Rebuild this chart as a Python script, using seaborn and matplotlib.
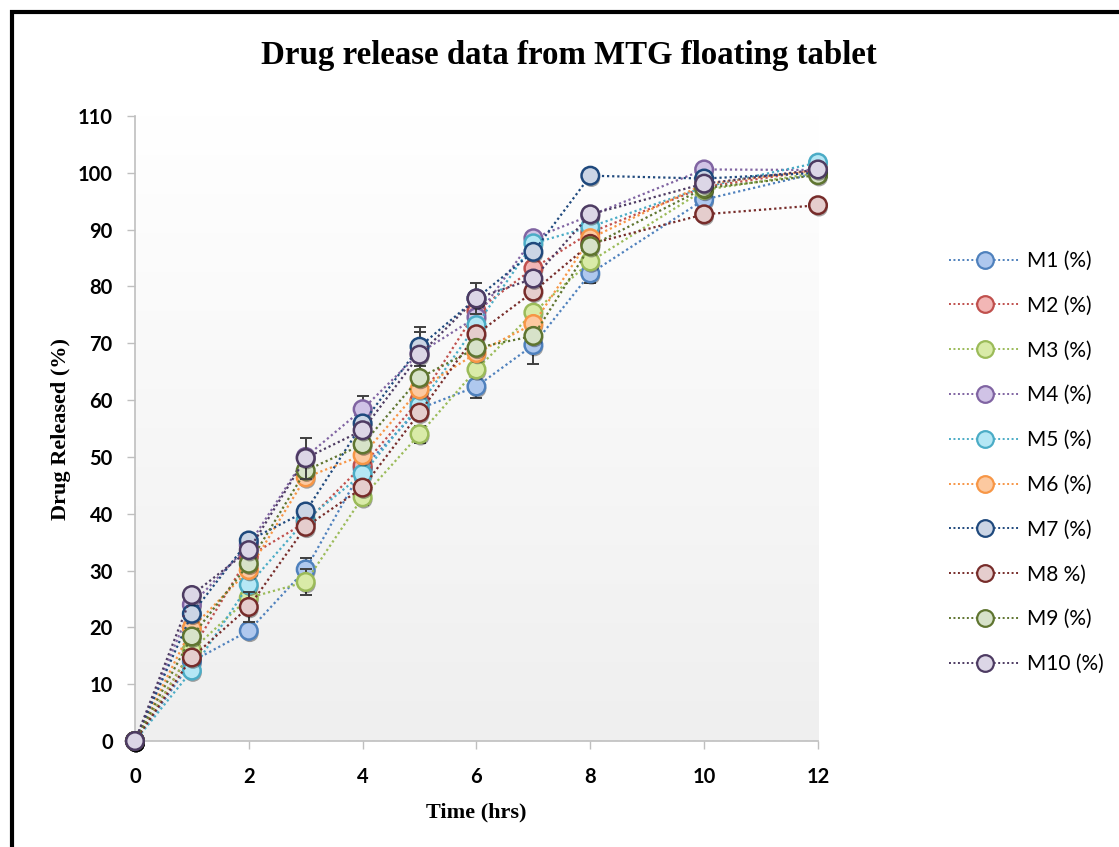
import numpy as np
import pandas as pd
import seaborn as sns
import matplotlib.pyplot as plt
import matplotlib.patheffects as pe
from matplotlib.lines import Line2D
from matplotlib.patches import Rectangle

# Sampling times (hrs)
time_hrs = [0, 1, 2, 3, 4, 5, 6, 7, 8, 10, 12]

# Cumulative drug released (%) per formulation
m1 = [0, 14.0, 19.4, 30.2, 48.0, 58.5, 62.4, 69.7, 82.3, 95.3, 100.0]
m2 = [0, 16.0, 32.5, 38.5, 48.5, 60.0, 75.7, 83.2, 89.5, 97.5, 100.5]
m3 = [0, 16.0, 25.2, 28.0, 42.9, 54.0, 65.4, 75.4, 84.4, 97.0, 100.0]
m4 = [0, 24.0, 34.5, 50.0, 58.4, 68.3, 74.6, 88.5, 92.5, 100.6, 100.5]
m5 = [0, 12.4, 27.5, 38.9, 47.0, 59.1, 73.2, 87.6, 90.5, 97.5, 101.8]
m6 = [0, 19.9, 30.1, 46.4, 50.3, 61.9, 68.3, 73.4, 88.5, 98.0, 100.5]
m7 = [0, 22.4, 35.3, 40.4, 55.9, 69.4, 77.9, 86.1, 99.5, 99.0, 100.0]
m8 = [0, 14.7, 23.6, 37.7, 44.6, 57.8, 71.6, 79.1, 87.5, 92.7, 94.3]
m9 = [0, 18.4, 31.2, 47.6, 52.2, 63.9, 69.2, 71.3, 87.1, 97.3, 99.6]
m10 = [0, 25.7, 33.6, 49.8, 54.7, 68.0, 77.9, 81.4, 92.7, 98.1, 100.6]

# Standard deviations (0 = no error bar shown)
m1_err = [0, 0, 0, 2.0, 0, 0, 2.1, 3.3, 1.6, 0, 0]
m3_err = [0, 0, 0, 2.3, 1.4, 1.5, 0, 0, 0, 0, 0]
m4_err = [0, 0, 0, 0, 2.4, 3.7, 0, 0, 0, 0, 0]
m7_err = [0, 0, 1.2, 0, 0, 3.4, 0, 0, 0, 0, 0]
m8_err = [0, 0, 2.6, 0, 0, 0, 0, 0, 0, 0, 0]
m10_err = [0, 1.3, 0, 3.6, 0, 0, 2.8, 0, 0, 0, 0]
zero_err = [0] * len(time_hrs)

series_labels = ["M1 (%)", "M2 (%)", "M3 (%)", "M4 (%)", "M5 (%)",
                 "M6 (%)", "M7 (%)", "M8 %)", "M9 (%)", "M10 (%)"]
series_values = [m1, m2, m3, m4, m5, m6, m7, m8, m9, m10]
series_errors = [m1_err, zero_err, m3_err, m4_err, zero_err,
                 zero_err, m7_err, m8_err, zero_err, m10_err]

line_colors = ["#4F81BD", "#C0504D", "#9BBB59", "#8064A2", "#4BACC6",
               "#F79646", "#1F497D", "#772C2A", "#5F7530", "#4D3B62"]
fill_colors = ["#AFC8EE", "#F2B6B5", "#D9EBA8", "#D0C3E6", "#B5E7F5",
               "#FCC9A0", "#CBD5E5", "#E5CDCD", "#D7E2C9", "#DCD6E6"]

sns.set_theme(style="white")
plt.rcParams["font.family"] = ["Lato", "DejaVu Sans"]
plt.rcParams["text.color"] = "black"
plt.rcParams["axes.labelcolor"] = "black"

fig = plt.figure(figsize=(11.19, 8.47), dpi=100)
ax = fig.add_axes([0.1206, 0.1251, 0.6104, 0.7379])

# Plot-area gradient (white at top to light grey at bottom)
grad = np.linspace(1.0, 0.0, 256).reshape(-1, 1)
ax.imshow(grad, extent=[0, 1, 0, 1], transform=ax.transAxes, aspect="auto",
          cmap=sns.blend_palette(["#EFEFEF", "#FFFFFF"], as_cmap=True),
          zorder=0)

shadow = [pe.SimplePatchShadow(offset=(0.8, -1.8), shadow_rgbFace="black",
                               alpha=0.35), pe.Normal()]

for i, (lab, vals, errs) in enumerate(zip(series_labels, series_values, series_errors)):
    df = pd.DataFrame({"t": time_hrs, "v": vals, "e": errs})
    sns.lineplot(data=df, x="t", y="v", ax=ax, color=line_colors[i],
                 linewidth=1.6, dashes=False, zorder=3 + i * 0.1, legend=False)
    ax.lines[-1].set_linestyle((0, (1, 1.3)))
    with_err = df[df["e"] > 0]
    if len(with_err):
        ax.errorbar(with_err["t"], with_err["v"], yerr=with_err["e"], fmt="none",
                    ecolor="#3F3F3F", elinewidth=1.4, capsize=4.5, capthick=1.4,
                    zorder=3 + i * 0.1 + 0.01)
    sns.scatterplot(data=df, x="t", y="v", ax=ax, s=160, color=fill_colors[i],
                    edgecolor=line_colors[i], linewidth=1.8,
                    zorder=3 + i * 0.1 + 0.05, legend=False)
    coll = ax.collections[-1]
    coll.set_clip_on(False)
    coll.set_path_effects(shadow)

ax.set_xlim(0, 12)
ax.set_ylim(0, 110)
ax.set_xticks([0, 2, 4, 6, 8, 10, 12])
ax.set_yticks(np.arange(0, 111, 10))
ax.tick_params(axis="both", which="both", length=6, width=1, color="#BFBFBF",
               direction="out", labelsize=14.5, bottom=True, left=True)
ax.tick_params(axis="y", pad=10)
ax.tick_params(axis="x", pad=13)
for lbl in ax.get_xticklabels() + ax.get_yticklabels():
    lbl.set_fontweight("bold")
    lbl.set_color("black")

for side in ["top", "right"]:
    ax.spines[side].set_visible(False)
for side in ["left", "bottom"]:
    ax.spines[side].set_color("#BFBFBF")
    ax.spines[side].set_linewidth(1.2)

serif = ["Liberation Serif", "DejaVu Serif"]
ax.set_xlabel("Time (hrs)", family=serif, fontweight="bold", fontsize=16, labelpad=11)
ax.set_ylabel("Drug Released (%)", family=serif, fontweight="bold", fontsize=16, labelpad=5)
fig.text(0.508, 0.935, "Drug release data from MTG floating tablet", family=serif,
         fontweight="bold", fontsize=23.7, ha="center", va="center", color="black")

handles = [Line2D([], [], color=line_colors[i], linestyle=(0, (1, 1.3)), linewidth=1.4,
                  marker="o", markersize=12, markerfacecolor=fill_colors[i],
                  markeredgecolor=line_colors[i], markeredgewidth=1.6)
           for i in range(len(series_labels))]
fig.legend(handles, series_labels, loc="center left", bbox_to_anchor=(0.8315, 0.454),
           frameon=False, fontsize=15, handlelength=3.4, labelspacing=1.19,
           handletextpad=0.35)

# Outer frame of the chart
fig.patches.append(Rectangle((12 / 1119, -0.05), 1.2, 1 - 12 / 847 + 0.05,
                             transform=fig.transFigure, fill=False,
                             edgecolor="black", linewidth=3))

fig.savefig("out.png", dpi=100)
